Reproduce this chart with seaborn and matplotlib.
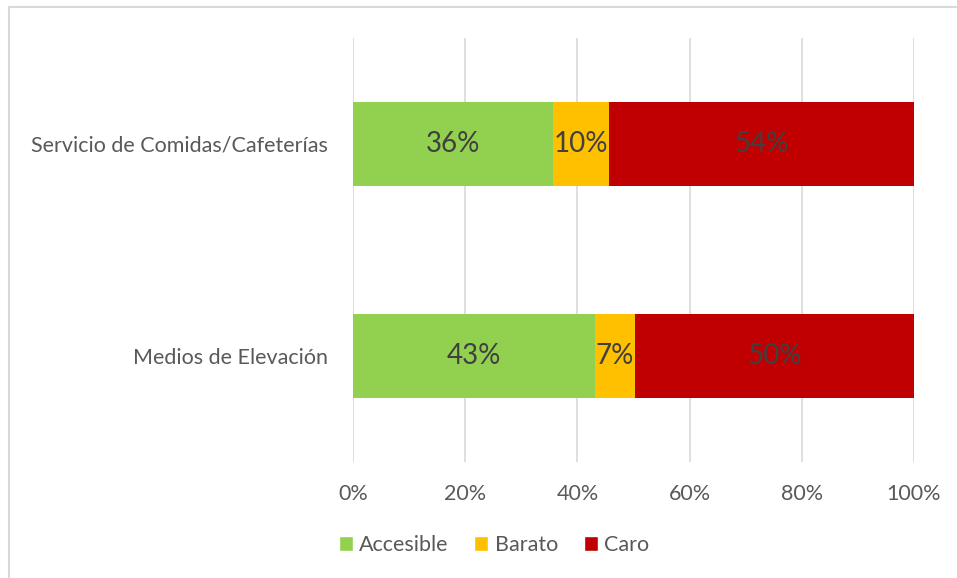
import seaborn as sns
import matplotlib.pyplot as plt
import pandas as pd
from matplotlib.lines import Line2D
from matplotlib.patches import Patch

categories = ['Servicio de Comidas/Cafeterías', 'Medios de Elevación']
series = ['Accesible', 'Barato', 'Caro']
accesible = [0.357, 0.431]
barato = [0.099, 0.072]
caro = [0.544, 0.497]
labels = [['36%', '10%', '54%'], ['43%', '7%', '50%']]
colors = {'Accesible': '#92D050', 'Barato': '#FFC000', 'Caro': '#C00000'}
ticks = [0, 0.2, 0.4, 0.6, 0.8, 1.0]
tick_labels = ['0%', '20%', '40%', '60%', '80%', '100%']

df = pd.DataFrame({'Categoria': categories, 'Accesible': accesible,
                   'Barato': barato, 'Caro': caro})
cum = df[series].cumsum(axis=1)
starts = cum - df[series]

sns.set_style('white')
plt.rcParams['font.family'] = ['Lato', 'DejaVu Sans']
text_color = '#595959'

fig = plt.figure(figsize=(9.57, 5.78), dpi=100)
ax = fig.add_axes([353 / 957, 1 - 462 / 578, (914 - 353) / 957, (462 - 38) / 578])

# stacked bars: draw cumulative totals from the last series backwards
for s in reversed(series):
    sns.barplot(x=cum[s], y=df['Categoria'], color=colors[s], width=0.4,
                orient='h', ax=ax, saturation=1, linewidth=0)

for i in range(len(categories)):
    for j, s in enumerate(series):
        x = starts.loc[i, s] + df.loc[i, s] / 2
        ax.text(x, i, labels[i][j], ha='center', va='center',
                fontsize=20, color='#404040')

ax.set_xlim(0, 1)
ax.set_ylim(1.5, -0.5)
ax.set_xticks(ticks)
ax.set_xticklabels(tick_labels, fontsize=15.5, color=text_color)
ax.tick_params(axis='y', labelsize=15.5, labelcolor=text_color, length=0, pad=18)
ax.tick_params(axis='x', length=0, pad=16)
ax.set_xlabel('')
ax.set_ylabel('')
ax.grid(axis='x', color='#D9D9D9', linewidth=1.2)
ax.set_axisbelow(True)
for sp in ax.spines.values():
    sp.set_visible(False)

handles = [Patch(facecolor=colors[s], label=s) for s in series]
fig.legend(handles=handles, loc='center', bbox_to_anchor=(494 / 957, 1 - 545 / 578),
           ncol=3, frameon=False, fontsize=15.5, handlelength=0.65, handleheight=0.65,
           handletextpad=0.3, columnspacing=1.2, labelcolor=text_color)

# chart area border (left and top visible)
fig.add_artist(Line2D([9 / 957, 9 / 957], [0, 1 - 7 / 578], color='#D9D9D9', linewidth=1.5))
fig.add_artist(Line2D([9 / 957, 1], [1 - 7 / 578, 1 - 7 / 578], color='#D9D9D9', linewidth=1.5))

plt.savefig('out.png', dpi=100)
